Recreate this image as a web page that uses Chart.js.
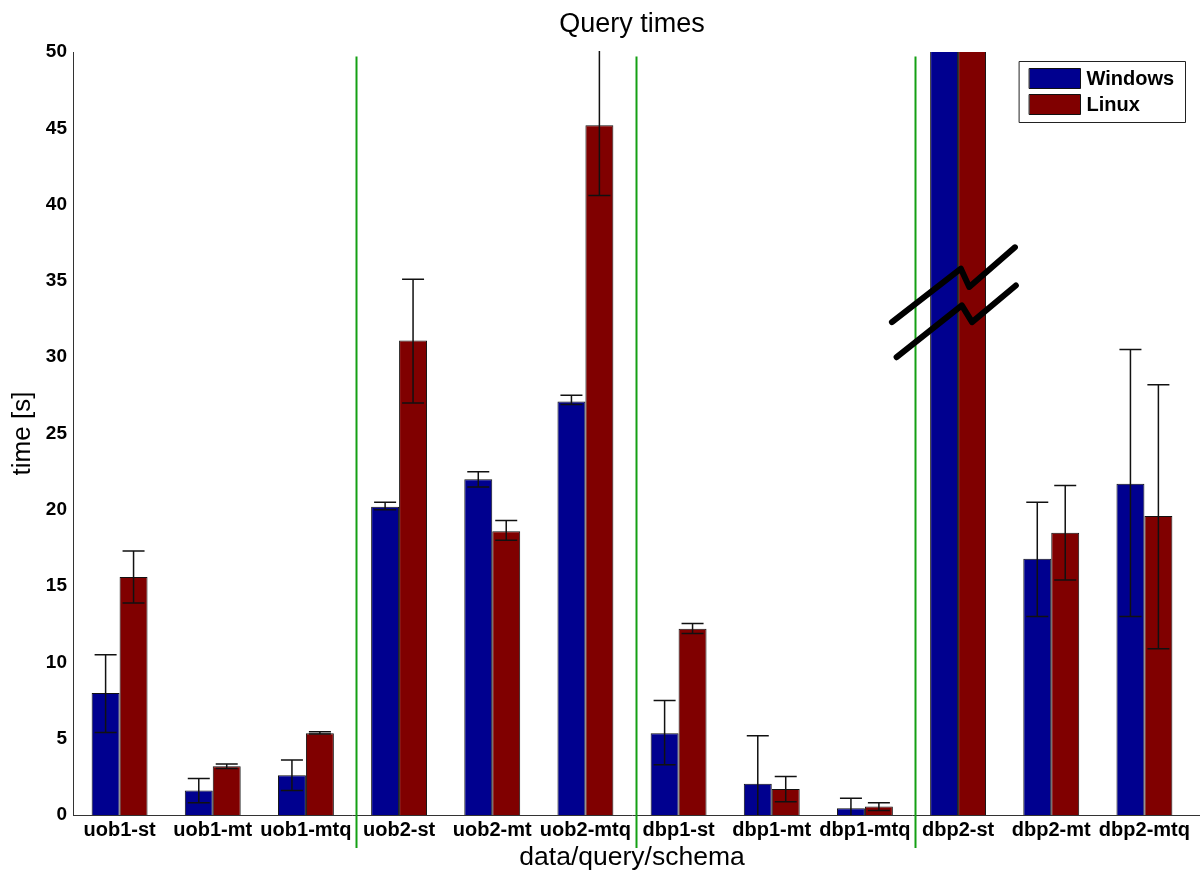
<!DOCTYPE html>
<html>
<head>
<meta charset="utf-8">
<script src="https://cdn.jsdelivr.net/npm/chart.js@4/dist/chart.umd.min.js"></script>
<style>
  html, body { margin: 0; padding: 0; background: #fff; }
  #wrap { width: 1203px; height: 878px; }
</style>
</head>
<body>
<div id="wrap"><canvas id="chart"></canvas></div>
<script>
// --- data ---
const categories = ['uob1-st', 'uob1-mt', 'uob1-mtq', 'uob2-st', 'uob2-mt', 'uob2-mtq',
                    'dbp1-st', 'dbp1-mt', 'dbp1-mtq', 'dbp2-st', 'dbp2-mt', 'dbp2-mtq'];
const windowsTimes = [8.0, 1.6, 2.6, 20.2, 22.0, 27.1, 5.35, 2.05, 0.45, 60, 16.8, 21.7];
const linuxTimes   = [15.6, 3.2, 5.35, 31.1, 18.6, 45.2, 12.2, 1.7, 0.55, 60, 18.5, 19.6];
const windowsLow   = [5.4, 0.8, 1.6, 20.0, 21.5, 26.9, 3.3, -1.1, -0.2, null, 13.0, 13.0];
const windowsHigh  = [10.5, 2.4, 3.6, 20.5, 22.5, 27.5, 7.5, 5.2, 1.1, null, 20.5, 30.5];
const linuxLow     = [13.9, 3.05, 5.3, 27.0, 18.0, 40.6, 11.9, 0.87, 0.3, null, 15.4, 10.9];
const linuxHigh    = [17.3, 3.35, 5.45, 35.1, 19.3, 51, 12.55, 2.53, 0.8, null, 21.6, 28.2];
const yTicks = [0, 5, 10, 15, 20, 25, 30, 35, 40, 45, 50];
const separatorsAfter = [2, 5, 8];   // green lines between groups
const brokenBar = 9;                 // dbp2-st goes off the scale

const WIN_COLOR = '#00008f';
const LIN_COLOR = '#800000';
const FONT = '"Liberation Sans", Arial, sans-serif';

// error bars drawn on top of the bars
const errorBars = {
    id: 'errorBars',
    afterDatasetsDraw(chart) {
        const { ctx, chartArea, scales: { y } } = chart;
        const ranges = [[windowsLow, windowsHigh], [linuxLow, linuxHigh]];
        ctx.save();
        ctx.beginPath();
        ctx.rect(chartArea.left, chartArea.top - 1, chartArea.right - chartArea.left, chartArea.bottom - chartArea.top + 1);
        ctx.clip();
        ctx.strokeStyle = '#111';
        ctx.lineWidth = 1.5;
        ranges.forEach(([lo, hi], di) => {
            chart.getDatasetMeta(di).data.forEach((bar, i) => {
                if (lo[i] == null) return;
                const x = bar.x;
                const yl = y.getPixelForValue(lo[i]);
                const yh = y.getPixelForValue(hi[i]);
                const cap = 11;
                ctx.beginPath();
                ctx.moveTo(x, yl); ctx.lineTo(x, yh);
                ctx.moveTo(x - cap, yl); ctx.lineTo(x + cap, yl);
                ctx.moveTo(x - cap, yh); ctx.lineTo(x + cap, yh);
                ctx.stroke();
            });
        });
        ctx.restore();
    }
};

// title, green separators, axis-break marks and the boxed legend
const decorations = {
    id: 'decorations',
    afterDraw(chart) {
        const { ctx, chartArea, scales: { x, y } } = chart;
        ctx.save();

        // x axis line runs a little past the last category
        ctx.strokeStyle = '#333';
        ctx.lineWidth = 1;
        ctx.beginPath();
        ctx.moveTo(chartArea.right, chartArea.bottom + 0.5);
        ctx.lineTo(chart.width - 3, chartArea.bottom + 0.5);
        ctx.stroke();

        ctx.fillStyle = '#000';
        ctx.font = '27px ' + FONT;
        ctx.textAlign = 'center';
        ctx.textBaseline = 'middle';
        ctx.fillText('Query times', (chartArea.left + chartArea.right) / 2, 25);

        const cw = x.getPixelForValue(1) - x.getPixelForValue(0);
        ctx.strokeStyle = '#14a014';
        ctx.lineWidth = 2;
        separatorsAfter.forEach(i => {
            const px = Math.round(x.getPixelForValue(i + 0.54)) + 0.5;
            ctx.beginPath();
            ctx.moveTo(px, y.getPixelForValue(49.7));
            ctx.lineTo(px, chartArea.bottom + 33);
            ctx.stroke();
        });

        // break marks on the dbp2-st pair
        const cx = x.getPixelForValue(brokenBar);
        const marks = [
            [[-0.71, 32.3], [0.03, 35.8], [0.12, 34.6], [0.61, 37.2]],
            [[-0.66, 30.0], [0.04, 33.4], [0.15, 32.3], [0.62, 34.7]]
        ];
        ctx.strokeStyle = '#000';
        ctx.lineWidth = 6;
        ctx.lineCap = 'round';
        ctx.lineJoin = 'round';
        marks.forEach(pts => {
            ctx.beginPath();
            pts.forEach(([fx, v], k) => {
                const px = cx + fx * cw, py = y.getPixelForValue(v);
                if (k === 0) ctx.moveTo(px, py); else ctx.lineTo(px, py);
            });
            ctx.stroke();
        });

        // legend box
        const bx = 1019.5, by = 61.5, bw = 166, bh = 61;
        ctx.fillStyle = '#fff';
        ctx.fillRect(bx, by, bw, bh);
        ctx.strokeStyle = '#222';
        ctx.lineWidth = 1;
        ctx.strokeRect(bx, by, bw, bh);
        ctx.font = 'bold 20px ' + FONT;
        ctx.textAlign = 'left';
        ctx.textBaseline = 'middle';
        chart.data.datasets.forEach((ds, i) => {
            const sy = by + 7 + i * 26;
            ctx.fillStyle = ds.backgroundColor;
            ctx.fillRect(bx + 10, sy, 51, 20);
            ctx.strokeStyle = '#111';
            ctx.strokeRect(bx + 10, sy, 51, 20);
            ctx.fillStyle = '#000';
            ctx.fillText(ds.label, bx + 67, sy + 11);
        });
        ctx.restore();
    }
};

const ctx = document.getElementById('chart').getContext('2d');
new Chart(ctx, {
    type: 'bar',
    data: {
        labels: categories,
        datasets: [
            { label: 'Windows', data: windowsTimes, backgroundColor: WIN_COLOR, borderColor: '#111', borderWidth: 1 },
            { label: 'Linux', data: linuxTimes, backgroundColor: LIN_COLOR, borderColor: '#111', borderWidth: 1 }
        ]
    },
    options: {
        responsive: true,
        maintainAspectRatio: false,
        animation: false,
        layout: { padding: { left: 0, right: 12, top: 52, bottom: 4 } },
        datasets: { bar: { categoryPercentage: 0.6, barPercentage: 1.0 } },
        scales: {
            x: {
                grid: { display: false, tickLength: 0 },
                border: { display: true, color: '#333', width: 1 },
                ticks: {
                    color: '#000',
                    padding: 3,
                    maxRotation: 0,
                    autoSkip: false,
                    font: { family: FONT, size: 20, weight: 'bold' }
                },
                title: {
                    display: true,
                    text: 'data/query/schema',
                    color: '#000',
                    padding: 0,
                    font: { family: FONT, size: 26.5 }
                },
                afterFit: (scale) => { scale.height = 59; }
            },
            y: {
                min: 0,
                max: 50,
                grid: { display: false, tickLength: 0 },
                border: { display: true, color: '#333', width: 1 },
                afterBuildTicks: (scale) => { scale.ticks = yTicks.map(v => ({ value: v })); },
                ticks: {
                    color: '#000',
                    padding: 6,
                    font: { family: FONT, size: 19, weight: 'bold' }
                },
                title: {
                    display: true,
                    text: 'time [s]',
                    color: '#000',
                    padding: { top: 7, bottom: 0 },
                    font: { family: FONT, size: 26 }
                },
                afterFit: (scale) => { scale.width = 73; }
            }
        },
        plugins: {
            legend: { display: false },
            tooltip: { enabled: false },
            title: { display: false }
        }
    },
    plugins: [errorBars, decorations]
});
</script>
</body>
</html>
